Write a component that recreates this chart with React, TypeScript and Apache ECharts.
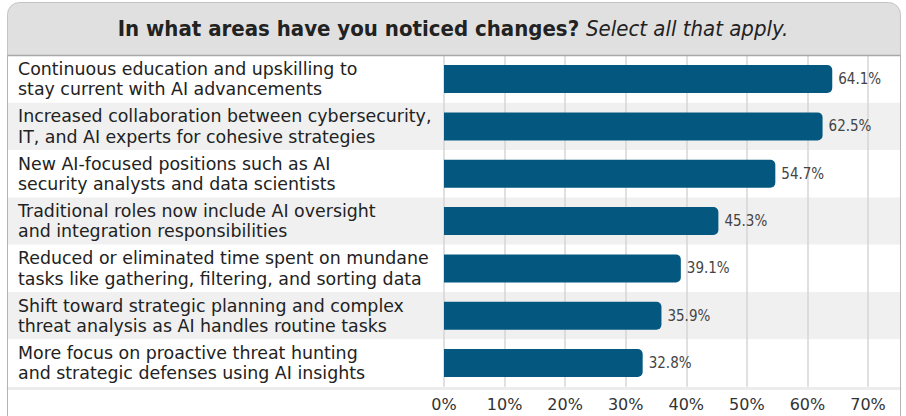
import React, { useEffect, useRef } from "react";
import * as echarts from "echarts";

const categories: string[] = [
  "Continuous education and upskilling to\nstay current with AI advancements",
  "Increased collaboration between cybersecurity,\nIT, and AI experts for cohesive strategies",
  "New AI-focused positions such as AI\nsecurity analysts and data scientists",
  "Traditional roles now include AI oversight\nand integration responsibilities",
  "Reduced or eliminated time spent on mundane\ntasks like gathering, filtering, and sorting data",
  "Shift toward strategic planning and complex\nthreat analysis as AI handles routine tasks",
  "More focus on proactive threat hunting\nand strategic defenses using AI insights",
];
const values: number[] = [64.1, 62.5, 54.7, 45.3, 39.1, 35.9, 32.8];
const xMin = 0;
const xMax = 70;
const xStep = 10;
const titleMain = "In what areas have you noticed changes?";
const titleSub = "Select all that apply.";

const W = 906;
const H = 416;
const TOP = 55.4;
const BOTTOM = 29.3;

export default function App() {
  const ref = useRef<HTMLDivElement>(null);
  useEffect(() => {
    if (!ref.current) return;
    const chart = echarts.init(ref.current, null, { renderer: "svg", width: W, height: H });
    const sans = "'DejaVu Sans', 'Noto Sans', sans-serif";
    const narrow = "'Liberation Sans Narrow', 'DejaVu Sans Condensed', sans-serif";
    chart.setOption({
      animation: false,
      backgroundColor: "#ffffff",
      grid: [
        { left: 444, right: 38, top: TOP, bottom: BOTTOM, containLabel: false },
        { left: 8, right: 6, top: TOP, bottom: BOTTOM, containLabel: false },
      ],
      xAxis: [
        {
          gridIndex: 0,
          type: "value",
          min: xMin,
          max: xMax,
          interval: xStep,
          z: 2,
          axisLine: { show: false },
          axisTick: { show: false },
          splitLine: { show: true, lineStyle: { color: "#d6d6d6", width: 1.5 } },
          axisLabel: {
            formatter: "{value}%",
            color: "#333333",
            fontSize: 16,
            fontFamily: sans,
            margin: 10,
          },
        },
        {
          gridIndex: 1,
          type: "value",
          min: 0,
          max: 1,
          z: 0,
          offset: 1.5,
          axisLine: { show: true, lineStyle: { color: "#ececec", width: 3 } },
          axisTick: { show: false },
          splitLine: { show: false },
          axisLabel: { show: false },
        },
      ],
      yAxis: [
        {
          gridIndex: 0,
          type: "category",
          data: categories,
          inverse: true,
          z: 3,
          axisLine: { show: false },
          axisTick: { show: false },
          splitLine: { show: false },
          axisLabel: {
            align: "left",
            margin: 426,
            color: "#222222",
            fontSize: 17.4,
            lineHeight: 20.4,
            fontFamily: sans,
          },
        },
        {
          gridIndex: 1,
          type: "category",
          data: categories,
          inverse: true,
          z: 0,
          axisLine: { show: false },
          axisTick: { show: false },
          axisLabel: { show: false },
          splitLine: { show: false },
          splitArea: { show: true, areaStyle: { color: ["#ffffff", "#f0f0f0"] } },
        },
      ],
      series: [
        {
          type: "bar",
          xAxisIndex: 0,
          yAxisIndex: 0,
          data: values,
          barWidth: 28,
          z: 5,
          itemStyle: { color: "#04587f", borderRadius: [0, 5, 5, 0] },
          label: {
            show: true,
            position: "right",
            distance: 6,
            formatter: (p: any) => `${p.value}%`,
            color: "#444444",
            fontSize: 15,
            fontFamily: narrow,
          },
        },
      ],
      graphic: [
        {
          type: "rect",
          z: 10,
          shape: { x: 7.5, y: 2.5, width: 893, height: 53, r: [12, 12, 0, 0] },
          style: { fill: "#e0e0e0", stroke: "#c4c4c4", lineWidth: 1 },
        },
        {
          type: "line",
          z: 11,
          shape: { x1: 7.5, y1: 55.5, x2: 900.5, y2: 55.5 },
          style: { stroke: "#a8a8a8", lineWidth: 1.5 },
        },
        {
          type: "line",
          z: 11,
          shape: { x1: 7.5, y1: 55, x2: 7.5, y2: H },
          style: { stroke: "#b4b4b4", lineWidth: 1 },
        },
        {
          type: "line",
          z: 11,
          shape: { x1: 900.5, y1: 55, x2: 900.5, y2: H },
          style: { stroke: "#b4b4b4", lineWidth: 1 },
        },
        {
          type: "text",
          z: 12,
          x: 453,
          y: 28,
          style: {
            text: `{b|${titleMain}\u00a0}{i|${titleSub}}`,
            align: "center",
            verticalAlign: "middle",
            rich: {
              b: {
                fontFamily: narrow,
                fontWeight: "bold",
                fontSize: 22,
                fill: "#222222",
              },
              i: {
                fontFamily: narrow,
                fontStyle: "italic",
                fontSize: 22,
                fill: "#222222",
              },
            },
          },
        },
      ],
    });
    return () => chart.dispose();
  }, []);
  return (
    <div
      ref={ref}
      style={{ position: "fixed", left: 0, top: 0, width: W, height: H }}
    />
  );
}
